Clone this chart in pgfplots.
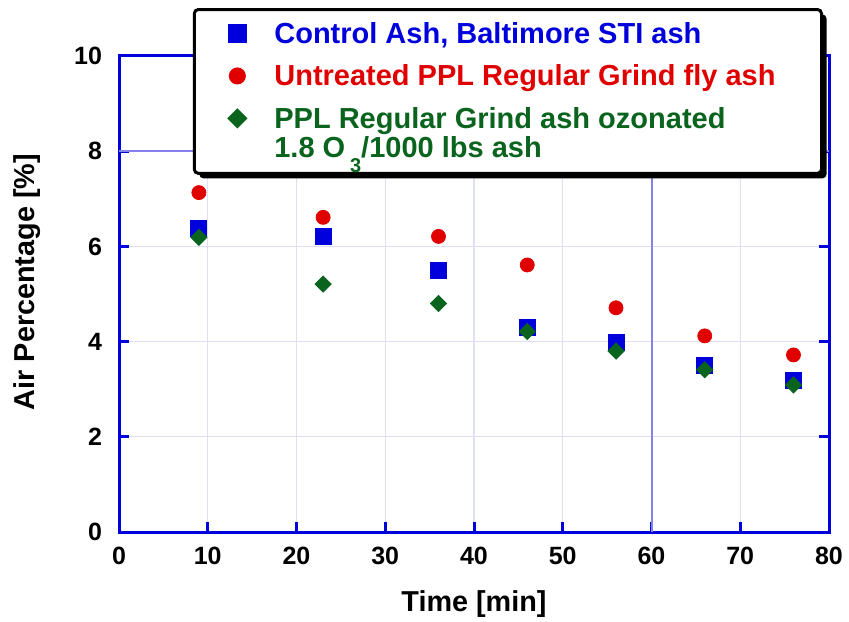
\documentclass[border=0pt]{standalone}
\usepackage{fontspec}
\setmainfont{Liberation Sans}
\usepackage{pgfplots}
\pgfplotsset{compat=1.18}
\usetikzlibrary{shadows}
\definecolor{axblue}{RGB}{0,0,220}
\definecolor{gridc}{RGB}{222,222,245}
\definecolor{midblue}{RGB}{130,130,232}
\definecolor{mred}{RGB}{225,0,0}
\definecolor{mgreen}{RGB}{10,100,30}
\definecolor{mblue}{RGB}{0,0,220}
\pgfplotsset{greenleg/.style={legend image code/.code={\draw[##1] plot coordinates {(0pt,19.5pt)};
    \pgfpathmoveto{\pgfpoint{-9pt}{17.5pt}}\pgfpathlineto{\pgfpoint{9pt}{21.5pt}}\pgfusepath{}}}}
\begin{document}
\begin{tikzpicture}
\useasboundingbox (0,0) rectangle (424.5pt,310.5pt);
\begin{axis}[
  at={(59.5pt,44.5pt)}, anchor=south west,
  scale only axis, width=355pt, height=238pt,
  xmin=0, xmax=80, ymin=0, ymax=10,
  xtick={0,10,...,80}, ytick={0,2,...,10},
  grid=major, major grid style={gridc, line width=0.6pt},
  axis line style={axblue, line width=1.5pt},
  tick style={axblue, line width=1.5pt},
  tick align=inside, major tick length=5pt,
  xlabel={Time [min]}, ylabel={Air Percentage [\%]},
  label style={font=\bfseries\fontsize{14.4}{16}\selectfont},
  xlabel shift=6pt,
  ylabel style={at={(ticklabel cs:0.525)}},
  ylabel shift=10pt,
  tick label style={font=\bfseries\fontsize{12.5}{14}\selectfont},
  /pgf/number format/assume math mode=true,
  xticklabel style={yshift=-4pt},
  yticklabel style={xshift=-5pt},
  legend image code/.code={\draw[#1] plot coordinates {(0pt,5pt)};
    \pgfpathmoveto{\pgfpoint{-9pt}{3pt}}\pgfpathlineto{\pgfpoint{9pt}{7pt}}\pgfusepath{}},
  legend style={at={(rel axis cs:0.104,1.1008)}, anchor=north west,
    draw=black, line width=1.5pt, rounded corners=2pt, fill=white,
    drop shadow={shadow xshift=2.5pt, shadow yshift=-2.5pt, opacity=1, fill=black},
    font=\bfseries\fontsize{14.5}{14.5}\selectfont,
    inner xsep=12.5pt, inner ysep=4.5pt, row sep=5.2pt, column sep=7.5pt,
    cells={align=left, anchor=base west}},
]
\draw[midblue, line width=1pt] (axis cs:60,0) -- (axis cs:60,10);
\draw[midblue, line width=1pt] (axis cs:0,8) -- (axis cs:80,8);
\addplot[only marks, mark=square*, mark size=4pt, color=mblue] coordinates {
 (9,6.38) (23,6.2) (36,5.5) (46,4.29) (56,3.99) (66,3.49) (76,3.19)};
\addlegendentry[text=mblue]{Control Ash, Baltimore STI ash}
\addplot[only marks, mark=*, mark size=3.5pt, color=mred] coordinates {
 (9,7.13) (23,6.61) (36,6.21) (46,5.61) (56,4.71) (66,4.12) (76,3.72)};
\addlegendentry[text=mred]{Untreated PPL Regular Grind fly ash\hspace*{8.5pt}}
\addplot[only marks, mark=square*, mark size=2.85pt, mark options={rotate=45}, color=mgreen, greenleg] coordinates {
 (9,6.19) (23,5.21) (36,4.8) (46,4.21) (56,3.8) (66,3.41) (76,3.09)};
\addlegendentry[text=mgreen]{PPL Regular Grind ash ozonated\\1.8 O\,\raisebox{-1.0ex}{\fontsize{10}{10}\selectfont 3}/1000 lbs ash}
\end{axis}
\end{tikzpicture}
\end{document}
